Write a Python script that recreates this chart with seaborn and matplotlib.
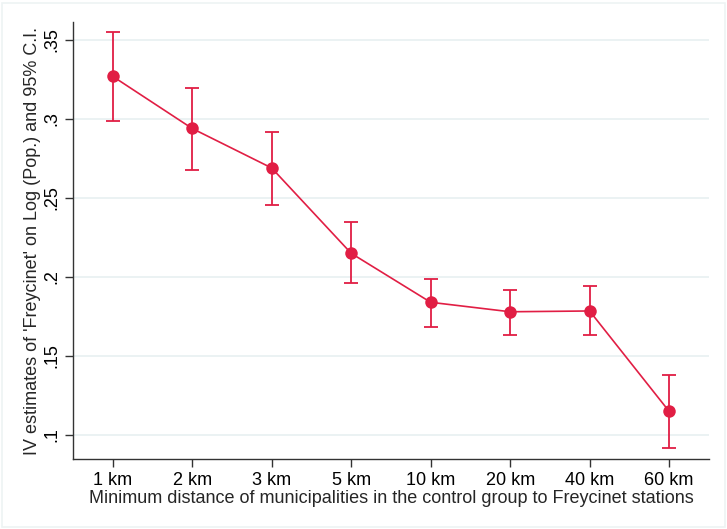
import matplotlib
matplotlib.use("Agg")
import matplotlib.pyplot as plt
import seaborn as sns
import pandas as pd
from matplotlib.patches import Rectangle

distances = ["1 km", "2 km", "3 km", "5 km", "10 km", "20 km", "40 km", "60 km"]
estimates = [0.327, 0.294, 0.269, 0.215, 0.184, 0.178, 0.1785, 0.115]
ci_low = [0.299, 0.268, 0.2455, 0.196, 0.1685, 0.1635, 0.163, 0.092]
ci_high = [0.355, 0.3195, 0.292, 0.2345, 0.199, 0.192, 0.194, 0.138]
ytick_vals = [0.10, 0.15, 0.20, 0.25, 0.30, 0.35]
ytick_labels = [".1", ".15", ".2", ".25", ".3", ".35"]

df = pd.DataFrame({"dist": distances, "est": estimates, "lo": ci_low, "hi": ci_high})

sns.set_theme(style="white")
plt.rcParams["font.family"] = ["Liberation Sans", "DejaVu Sans"]

red = "#E11E44"
fig = plt.figure(figsize=(7.27, 5.29), dpi=100)
ax = fig.add_axes([0.1004, 0.1323, 0.8746, 0.8261])

# grid
for v in ytick_vals:
    ax.axhline(v, color="#E8F0F1", lw=1.2, zorder=0)

ax.errorbar(df["dist"], df["est"],
            yerr=[df["est"] - df["lo"], df["hi"] - df["est"]],
            fmt="none", ecolor=red, elinewidth=1.3, capsize=5, capthick=1.3, zorder=2)
sns.lineplot(data=df, x="dist", y="est", ax=ax, color=red, lw=1.2,
             marker="o", markersize=9, markeredgewidth=0, sort=False, zorder=3)

ax.set_xlim(-0.5, 7.5)
ax.set_ylim(0.0848, 0.3614)
ax.set_yticks(ytick_vals)
ax.set_yticklabels(ytick_labels, rotation=90, va="center", fontsize=13)
ax.tick_params(axis="x", labelsize=13)
ax.tick_params(axis="both", direction="out", length=6, width=1, color="#333333",
               left=True, bottom=True, labelcolor="black", pad=3)
for s in ["top", "right"]:
    ax.spines[s].set_visible(False)
for s in ["left", "bottom"]:
    ax.spines[s].set_color("#333333")
    ax.spines[s].set_linewidth(1.0)

ax.set_xlabel("Minimum distance of municipalities in the control group to Freycinet stations",
              fontsize=13, labelpad=1)
ax.set_ylabel("IV estimates of 'Freycinet' on Log (Pop.) and 95% C.I.", fontsize=13, labelpad=2)

fig.patches.append(Rectangle((0.003, 0.003), 0.994, 0.992, transform=fig.transFigure,
                             fill=False, edgecolor="#EEF3F4", lw=1.2))

fig.savefig("out.png", dpi=100, facecolor="white")
